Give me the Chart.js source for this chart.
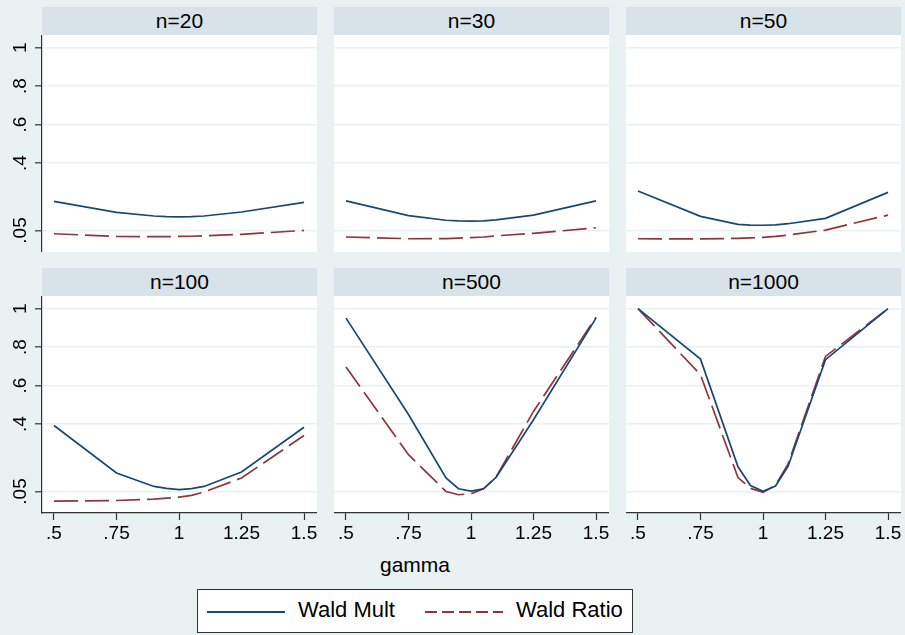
<!DOCTYPE html>
<html>
<head>
<meta charset="utf-8">
<script src="https://cdn.jsdelivr.net/npm/chart.js@4.4.0/dist/chart.umd.min.js"></script>
<style>
  body { margin: 0; background: #e9f1f3; font-family: "Liberation Sans", Arial, sans-serif; }
  #page { position: relative; width: 905px; height: 635px; overflow: hidden; }
  .panel { position: absolute; }
  .strip { position: absolute; height: 28px; background: #d7e3e9; color: #000;
           font-size: 21px; line-height: 28px; text-align: center; }
  #xtitle { position: absolute; left: 315px; width: 200px; top: 553px; text-align: center;
            font-size: 21px; color: #000; }
  #legend { position: absolute; left: 197px; top: 589px; width: 434px; height: 42px;
            background: #fff; border: 1px solid #333; }
  .swatch { position: absolute; top: 21px; width: 78px; height: 0; }
  .lbl { position: absolute; top: 7px; font-size: 22px; color: #000; white-space: nowrap; }
</style>
</head>
<body>
<div id="page">
  <div id="xtitle">gamma</div>
  <div id="legend"></div>
</div>
<script>
// x positions of the simulated points (gamma)
const gamma = [0.5, 0.75, 0.9, 0.95, 1, 1.05, 1.1, 1.25, 1.5];
const panelTitles = ['n=20', 'n=30', 'n=50', 'n=100', 'n=500', 'n=1000'];
const seriesNames = ['Wald Mult', 'Wald Ratio'];

// Wald Mult rejection rates
const waldMult20   = [0.201, 0.144, 0.125, 0.122, 0.121, 0.122, 0.125, 0.146, 0.196];
const waldMult30   = [0.204, 0.127, 0.103, 0.100, 0.099, 0.100, 0.105, 0.130, 0.204];
const waldMult50   = [0.255, 0.123, 0.082, 0.078, 0.077, 0.079, 0.085, 0.113, 0.248];
const waldMult100  = [0.393, 0.146, 0.076, 0.066, 0.060, 0.065, 0.076, 0.151, 0.384];
const waldMult500  = [0.951, 0.450, 0.120, 0.064, 0.052, 0.064, 0.123, 0.423, 0.951];
const waldMult1000 = [1.000, 0.738, 0.178, 0.081, 0.051, 0.078, 0.180, 0.735, 1.000];

// Wald Ratio rejection rates
const waldRatio20   = [0.033, 0.019, 0.018, 0.018, 0.019, 0.020, 0.022, 0.030, 0.050];
const waldRatio30   = [0.016, 0.007, 0.008, 0.010, 0.013, 0.016, 0.022, 0.035, 0.064];
const waldRatio50   = [0.007, 0.006, 0.009, 0.011, 0.014, 0.019, 0.026, 0.052, 0.130];
const waldRatio100  = [0.000, 0.003, 0.010, 0.015, 0.021, 0.030, 0.047, 0.120, 0.341];
const waldRatio500  = [0.697, 0.241, 0.050, 0.033, 0.038, 0.064, 0.125, 0.466, 0.956];
const waldRatio1000 = [1.000, 0.657, 0.122, 0.066, 0.045, 0.082, 0.192, 0.752, 1.000];

const multSeries  = [waldMult20, waldMult30, waldMult50, waldMult100, waldMult500, waldMult1000];
const ratioSeries = [waldRatio20, waldRatio30, waldRatio50, waldRatio100, waldRatio500, waldRatio1000];

const xTicks = [0.5, 0.75, 1, 1.25, 1.5];
const xTickLabels = ['.5', '.75', '1', '1.25', '1.5'];
const yTicks = [0.05, 0.4, 0.6, 0.8, 1];
const yTickLabels = ['.05', '.4', '.6', '.8', '1'];

const navy = '#1a476f';
const maroon = '#90353b';
const gridColor = '#eaf1f3';
const axisColor = '#333333';
const fontFamily = '"Liberation Sans", Arial, sans-serif';

// layout of the 2x3 grid
const colLeft = [42, 334, 626];
const rowTop = [35, 296];
const plotW = 275;
const plotH = 217;

// fond blanc de la zone de tracé
const plotBg = {
    id: 'plotBg',
    beforeDraw(chart) {
        const a = chart.chartArea;
        chart.ctx.save();
        chart.ctx.fillStyle = '#ffffff';
        chart.ctx.fillRect(a.left, a.top, a.right - a.left, a.bottom - a.top);
        chart.ctx.restore();
    }
};

const page = document.getElementById('page');

function makePanel(i) {
    const row = Math.floor(i / 3);
    const col = i % 3;
    const yAxisW = col === 0 ? 42 : 0;
    const xAxisH = row === 1 ? 40 : 0;
    const left = colLeft[col] - yAxisW;
    const top = rowTop[row];
    const w = plotW + yAxisW;
    const h = plotH + xAxisH;

    const strip = document.createElement('div');
    strip.className = 'strip';
    strip.style.left = colLeft[col] + 'px';
    strip.style.top = (top - 28) + 'px';
    strip.style.width = plotW + 'px';
    strip.textContent = panelTitles[i];
    page.appendChild(strip);

    const box = document.createElement('div');
    box.className = 'panel';
    box.style.left = left + 'px';
    box.style.top = top + 'px';
    const canvas = document.createElement('canvas');
    canvas.width = w;
    canvas.height = h;
    box.appendChild(canvas);
    page.appendChild(box);

    new Chart(canvas, {
        type: 'line',
        data: {
            datasets: [{
                label: seriesNames[0],
                data: gamma.map((g, k) => ({ x: g, y: multSeries[i][k] })),
                borderColor: navy,
                borderWidth: 1.7,
                pointRadius: 0,
                tension: 0
            }, {
                label: seriesNames[1],
                data: gamma.map((g, k) => ({ x: g, y: ratioSeries[i][k] })),
                borderColor: maroon,
                borderWidth: 1.7,
                borderDash: [24, 7],
                pointRadius: 0,
                tension: 0
            }]
        },
        options: {
            responsive: false,
            animation: false,
            devicePixelRatio: 1,
            layout: { padding: 0 },
            plugins: {
                legend: { display: false },
                tooltip: { enabled: false }
            },
            scales: {
                x: {
                    type: 'linear',
                    min: 0.452,
                    max: 1.552,
                    display: row === 1,
                    afterBuildTicks: s => { s.ticks = xTicks.map(v => ({ value: v })); },
                    afterFit: s => { s.height = xAxisH; s.paddingLeft = 0; s.paddingRight = 0; },
                    grid: { drawOnChartArea: false, drawTicks: true, tickLength: 7, tickWidth: 1.2, tickColor: axisColor },
                    border: { display: true, color: axisColor, width: 1.2 },
                    ticks: {
                        autoSkip: false,
                        maxRotation: 0,
                        padding: 2,
                        color: '#000',
                        font: { size: 19, family: fontFamily },
                        callback: (v, k) => xTickLabels[k]
                    }
                },
                y: {
                    min: -0.062,
                    max: 1.066,
                    afterBuildTicks: s => { s.ticks = yTicks.map(v => ({ value: v })); },
                    afterFit: s => { s.width = yAxisW; s.paddingTop = 0; s.paddingBottom = 0; },
                    grid: { color: gridColor, lineWidth: 1.6, drawTicks: col === 0, tickLength: 7, tickWidth: 1.2, tickColor: axisColor },
                    border: { display: col === 0, color: axisColor, width: 1.2 },
                    ticks: {
                        display: col === 0,
                        minRotation: 90,
                        maxRotation: 90,
                        crossAlign: 'center',
                        padding: 1,
                        color: '#000',
                        font: { size: 19, family: fontFamily },
                        callback: (v, k) => yTickLabels[k]
                    }
                }
            }
        },
        plugins: [plotBg]
    });
}

for (let i = 0; i < 6; i++) {
    makePanel(i);
}

// legende commune
const legend = document.getElementById('legend');
const legendItems = [
    { name: seriesNames[0], color: navy, dashed: false, swatchX: 9, textX: 100 },
    { name: seriesNames[1], color: maroon, dashed: true, swatchX: 227, textX: 318 }
];
legendItems.forEach(item => {
    const sw = document.createElement('div');
    sw.className = 'swatch';
    sw.style.left = item.swatchX + 'px';
    if (item.dashed) {
        sw.style.height = '2px';
        sw.style.background = `repeating-linear-gradient(to right, ${item.color} 0 12px, transparent 12px 17px)`;
    } else {
        sw.style.borderTop = '2px solid ' + item.color;
    }
    legend.appendChild(sw);
    const lb = document.createElement('div');
    lb.className = 'lbl';
    lb.style.left = item.textX + 'px';
    lb.textContent = item.name;
    legend.appendChild(lb);
});
</script>
</body>
</html>
